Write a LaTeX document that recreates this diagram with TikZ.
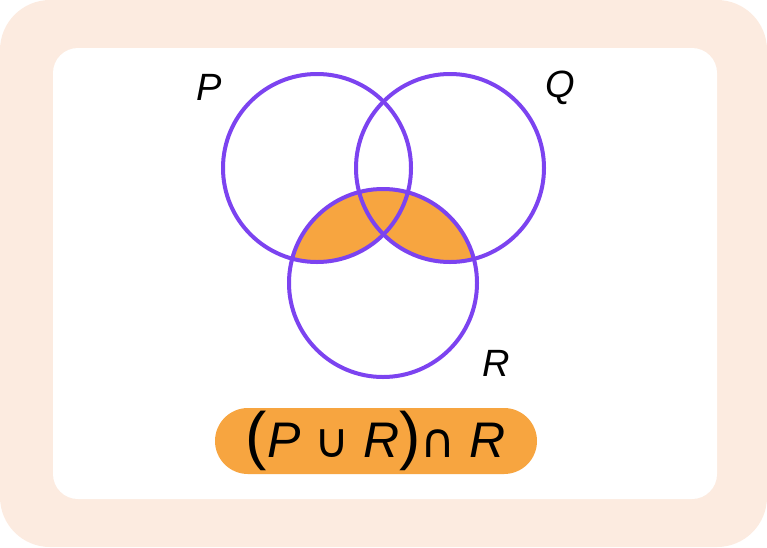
\documentclass[tikz,border=0pt]{standalone}
\usepackage{fontspec}
\setmainfont{Liberation Sans}
\newfontfamily\symfont{DejaVu Sans}
\usetikzlibrary{shapes,positioning,calc}
\definecolor{peach}{HTML}{FCEBE0}
\definecolor{violet}{HTML}{7C43F0}
\definecolor{amber}{HTML}{F7A540}

\begin{document}
\begin{tikzpicture}[x=1pt, y=-1pt]
\tikzstyle{setcircle} = [draw=violet, line width=4pt]
\tikzstyle{setlabel} = [font=\fontsize{38}{40}\selectfont\itshape, inner sep=0pt]
\tikzstyle{pill} = [fill=amber, rounded corners=33pt, minimum width=322pt, minimum height=66pt, inner sep=0pt]

% Frame
\useasboundingbox (0,0) rectangle (767,547);
\fill [peach, rounded corners=50pt] (0,0) rectangle (767,547);
\fill [white, rounded corners=25pt] (53,48) rectangle (717,499);

% Shaded region R and (P or Q)
\begin{scope}
\clip (383,283) circle (94);
\fill [amber] (317,168) circle (94);
\fill [amber] (450,168) circle (94);
\end{scope}

% Circles
\draw [setcircle] (317,168) circle (94);
\draw [setcircle] (450,168) circle (94);
\draw [setcircle] (383,283) circle (94);

% Labels
\node [setlabel] (labelP) at (209,87) {P};
\node [setlabel] (labelQ) at (560,88) {Q};
\node [setlabel] (labelR) at (496,363) {R};

\node [pill] (expr) at (376,441) {\fontsize{50}{52}\selectfont
  {\fontsize{64}{66}\selectfont(}\textit{P} {\symfont\fontsize{48}{50}\selectfont ∪} \textit{R}{\fontsize{64}{66}\selectfont)}{\symfont\fontsize{48}{50}\selectfont ∩} \textit{R}};

\end{tikzpicture}
\end{document}
